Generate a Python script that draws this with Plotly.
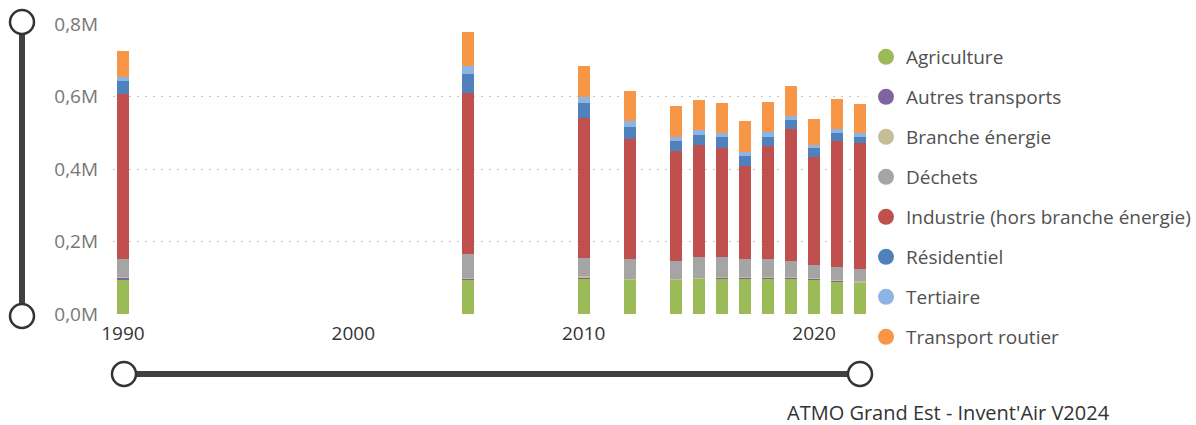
import plotly.graph_objects as go

# Emissions by sector (stacked), values in absolute units
years = [1990, 2005, 2010, 2012, 2014, 2015, 2016, 2017, 2018, 2019, 2020, 2021, 2022]
agriculture = [96000, 96000, 97000, 94000, 94000, 97000, 98000, 98000, 98000, 98000, 96000, 91000, 86000]
autres_transports = [4000, 2000, 4000, 2000, 2000, 2000, 2000, 2000, 2000, 2000, 2000, 2000, 2000]
branche_energie = [3000, 1000, 3000, 1000, 1000, 1000, 1000, 1000, 1000, 1000, 1000, 1000, 2000]
dechets = [50000, 66000, 50000, 54000, 49000, 58000, 55000, 52000, 51000, 44000, 36000, 36000, 33000]
industrie = [453000, 446000, 388000, 332000, 303000, 309000, 303000, 255000, 311000, 365000, 299000, 346000, 350000]
residentiel = [36000, 51000, 40000, 32000, 28000, 27000, 28000, 28000, 26000, 24000, 23000, 22000, 15000]
tertiaire = [12000, 21000, 16000, 17000, 11000, 13000, 11000, 11000, 13000, 12000, 9000, 12000, 10000]
transport_routier = [71000, 94000, 85000, 83000, 85000, 82000, 84000, 85000, 82000, 82000, 73000, 82000, 82000]

sector_names = ["Agriculture", "Autres transports", "Branche énergie", "Déchets",
                "Industrie (hors branche énergie)", "Résidentiel", "Tertiaire", "Transport routier"]
sector_values = [agriculture, autres_transports, branche_energie, dechets,
                 industrie, residentiel, tertiaire, transport_routier]
sector_colors = ["#9BBB59", "#8064A2", "#C4BD97", "#A5A5A5",
                 "#C0504D", "#4F81BD", "#8DB4E2", "#F79646"]

y_tickvals = [0, 200000, 400000, 600000, 800000]
y_ticktext = ["0,0M", "0,2M", "0,4M", "0,6M", "0,8M"]
x_tickvals = [1990, 2000, 2010, 2020]
source_text = "ATMO Grand Est - Invent'Air V2024"

W, H = 1196, 425
L, R, T, B = 113, 326, 24, 111

fig = go.Figure()
for name, vals, col in zip(sector_names, sector_values, sector_colors):
    fig.add_trace(go.Bar(x=years, y=vals, name=name, marker=dict(color=col, line=dict(width=0)),
                         width=0.52, legendgroup=name, showlegend=False))
# round legend markers
for name, col in zip(sector_names, sector_colors):
    fig.add_trace(go.Scatter(x=[None], y=[None], mode="markers", name=name, legendgroup=name,
                             marker=dict(color=col, size=16, symbol="circle")))

font_family = "Open Sans, Noto Sans, sans-serif"

# slider decorations (pixel coordinates converted to paper)
def px_x(px):
    return (px - L) / (W - L - R)

def px_y(py):
    return (H - B - py) / (H - T - B)

shapes = []
dark = "#404040"
# vertical slider
shapes.append(dict(type="line", xref="paper", yref="paper", x0=px_x(22), x1=px_x(22),
                   y0=px_y(30), y1=px_y(310), line=dict(color=dark, width=6)))
for cy in (22, 316):
    shapes.append(dict(type="circle", xref="paper", yref="paper",
                       x0=px_x(22 - 12), x1=px_x(22 + 12), y0=px_y(cy + 12), y1=px_y(cy - 12),
                       line=dict(color="#333333", width=2.5), fillcolor="white"))
# horizontal slider
shapes.append(dict(type="line", xref="paper", yref="paper", x0=px_x(130), x1=px_x(854),
                   y0=px_y(374), y1=px_y(374), line=dict(color=dark, width=6)))
for cx in (124, 860):
    shapes.append(dict(type="circle", xref="paper", yref="paper",
                       x0=px_x(cx - 12), x1=px_x(cx + 12), y0=px_y(374 + 12), y1=px_y(374 - 12),
                       line=dict(color="#333333", width=2.5), fillcolor="white"))

fig.update_layout(
    width=W, height=H,
    margin=dict(l=L, r=R, t=T, b=B, autoexpand=False),
    barmode="stack",
    plot_bgcolor="white", paper_bgcolor="white",
    font=dict(family=font_family, size=19, color="#505050"),
    shapes=shapes,
    legend=dict(x=px_x(866), y=px_y(38), xanchor="left", yanchor="top",
                traceorder="grouped", tracegroupgap=12.3, maxheight=400,
                font=dict(size=19, color="#505050"), itemclick=False),
    annotations=[dict(text=source_text, xref="paper", yref="paper", x=px_x(1112), y=px_y(412),
                      xanchor="right", yanchor="middle", showarrow=False,
                      font=dict(size=20, color="#333333", family=font_family))],
)
fig.update_xaxes(range=[1989.57, 2022.43], tickvals=x_tickvals, showgrid=False, zeroline=False,
                 showline=False, tickfont=dict(size=19, color="#333333"), ticks="",
                 ticklabelstandoff=6)
fig.update_yaxes(range=[0, 800000], tickvals=y_tickvals, ticktext=y_ticktext, showgrid=True,
                 gridcolor="#C8C8C8", griddash="2px,6px", gridwidth=1, zeroline=False,
                 showline=False, tickfont=dict(size=19, color="#777777"), ticklabelstandoff=14)

fig.write_html("out.html")
